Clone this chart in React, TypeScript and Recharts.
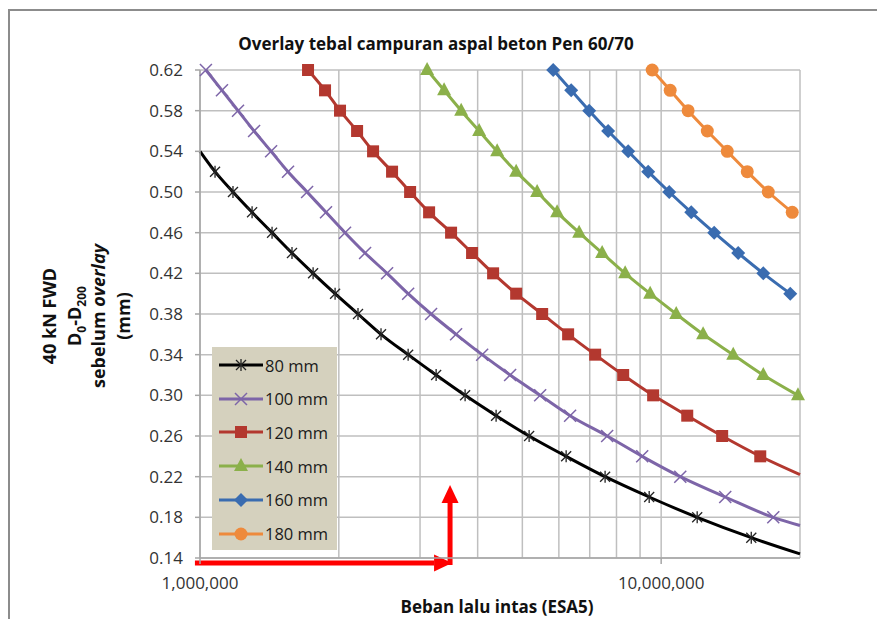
import React from "react";
import { LineChart, Line, XAxis, YAxis, CartesianGrid, ReferenceLine } from "recharts";

const FONT = "'Open Sans', 'Liberation Sans', sans-serif";

// marker positions: load (ESA5) and deflection D0-D200 (mm)
const LOAD_80 = [1078000, 1179000, 1297000, 1433000, 1583000, 1759000, 1963000, 2201000, 2469000, 2827000, 3251000, 3757000, 4386000, 5172000, 6222000, 7558000, 9419000, 11970000, 15680000];
const DEFL_80 = [0.52, 0.5, 0.48, 0.46, 0.44, 0.42, 0.4, 0.38, 0.36, 0.34, 0.32, 0.3, 0.28, 0.26, 0.24, 0.22, 0.2, 0.18, 0.16];

const LOAD_100 = [1030000, 1116000, 1209000, 1310000, 1426000, 1552000, 1707000, 1876000, 2063000, 2280000, 2545000, 2827000, 3170000, 3592000, 4091000, 4704000, 5465000, 6347000, 7636000, 9096000, 11000000, 13770000, 17500000];
const DEFL_100 = [0.62, 0.6, 0.58, 0.56, 0.54, 0.52, 0.5, 0.48, 0.46, 0.44, 0.42, 0.4, 0.38, 0.36, 0.34, 0.32, 0.3, 0.28, 0.26, 0.24, 0.22, 0.2, 0.18];

const LOAD_120 = [1715000, 1867000, 2012000, 2191000, 2373000, 2609000, 2855000, 3139000, 3503000, 3890000, 4321000, 4848000, 5520000, 6284000, 7192000, 8272000, 9607000, 11390000, 13560000, 16400000];
const DEFL_120 = [0.62, 0.6, 0.58, 0.56, 0.54, 0.52, 0.5, 0.48, 0.46, 0.44, 0.42, 0.4, 0.38, 0.36, 0.34, 0.32, 0.3, 0.28, 0.26, 0.24];

const LOAD_140 = [3108000, 3383000, 3684000, 4030000, 4409000, 4848000, 5383000, 5948000, 6639000, 7447000, 8354000, 9465000, 10780000, 12330000, 14330000, 16650000, 19800000];
const DEFL_140 = [0.62, 0.6, 0.58, 0.56, 0.54, 0.52, 0.5, 0.48, 0.46, 0.44, 0.42, 0.4, 0.38, 0.36, 0.34, 0.32, 0.3];

const LOAD_160 = [5832000, 6380000, 6981000, 7674000, 8481000, 9372000, 10410000, 11620000, 13030000, 14690000, 16650000, 19050000];
const DEFL_160 = [0.62, 0.6, 0.58, 0.56, 0.54, 0.52, 0.5, 0.48, 0.46, 0.44, 0.42, 0.4];

const LOAD_180 = [9561000, 10460000, 11440000, 12590000, 13910000, 15370000, 17070000, 19240000];
const DEFL_180 = [0.62, 0.6, 0.58, 0.56, 0.54, 0.52, 0.5, 0.48];

// curve ends drawn without a marker: [load, deflection]
const HEAD_80 = [1000000, 0.54];
const TAIL_80 = [20000000, 0.144];
const TAIL_100 = [20000000, 0.172];
const TAIL_120 = [20000000, 0.222];

const X_TICKS = [1000000, 2000000, 3000000, 4000000, 5000000, 6000000, 7000000, 8000000, 9000000, 10000000, 20000000];
const X_TICK_LABELS = ["1,000,000", "", "", "", "", "", "", "", "", "10,000,000", ""];
const Y_TICKS = [0.14, 0.18, 0.22, 0.26, 0.3, 0.34, 0.38, 0.42, 0.46, 0.5, 0.54, 0.58, 0.62];

// red annotation arrows
const ARROW_RIGHT = [{ x: 975000, y: 0.1351 }, { x: 3520000, y: 0.1351 }];
const ARROW_UP = [{ x: 3485000, y: 0.1331 }, { x: 3485000, y: 0.2118 }];

const build = (loads: number[], defl: number[], head?: number[], tail?: number[]) => [
  ...(head ? [{ x: head[0], y: head[1], bare: true }] : []),
  ...loads.map((x, i) => ({ x, y: defl[i] })),
  ...(tail ? [{ x: tail[0], y: tail[1], bare: true }] : []),
];

const SERIES = [
  { name: "80 mm", color: "#000000", marker: "star", data: build(LOAD_80, DEFL_80, HEAD_80, TAIL_80) },
  { name: "100 mm", color: "#7D65A8", marker: "x", data: build(LOAD_100, DEFL_100, undefined, TAIL_100) },
  { name: "120 mm", color: "#B3382F", marker: "square", data: build(LOAD_120, DEFL_120, undefined, TAIL_120) },
  { name: "140 mm", color: "#8BB04A", marker: "triangle", data: build(LOAD_140, DEFL_140) },
  { name: "160 mm", color: "#3A6CB0", marker: "diamond", data: build(LOAD_160, DEFL_160) },
  { name: "180 mm", color: "#EE8A3C", marker: "circle", data: build(LOAD_180, DEFL_180) },
];

function Marker({ shape, cx, cy, color }: { shape: string; cx: number; cy: number; color: string }) {
  switch (shape) {
    case "star":
      return (
        <g stroke="#222" strokeWidth={1.3}>
          <line x1={cx - 5} y1={cy - 5} x2={cx + 5} y2={cy + 5} />
          <line x1={cx - 5} y1={cy + 5} x2={cx + 5} y2={cy - 5} />
          <line x1={cx} y1={cy - 6} x2={cx} y2={cy + 6} />
        </g>
      );
    case "x":
      return (
        <g stroke={color} strokeWidth={1.5}>
          <line x1={cx - 6} y1={cy - 6} x2={cx + 6} y2={cy + 6} />
          <line x1={cx - 6} y1={cy + 6} x2={cx + 6} y2={cy - 6} />
        </g>
      );
    case "square":
      return <rect x={cx - 6} y={cy - 6} width={12} height={12} fill={color} />;
    case "triangle":
      return <polygon points={`${cx},${cy - 8} ${cx + 7},${cy + 5} ${cx - 7},${cy + 5}`} fill={color} />;
    case "diamond":
      return <polygon points={`${cx},${cy - 7} ${cx + 7},${cy} ${cx},${cy + 7} ${cx - 7},${cy}`} fill={color} />;
    default:
      return <circle cx={cx} cy={cy} r={6.5} fill={color} />;
  }
}

const dotFor = (shape: string, color: string) => (p: any) => {
  if (p.payload?.bare || p.cx == null) return <g key={p.index} />;
  return <Marker key={p.index} shape={shape} cx={p.cx} cy={p.cy} color={color} />;
};

const XTick = ({ x, y, index }: any) => {
  const label = X_TICK_LABELS[index];
  if (!label) return <g />;
  return (
    <g>
      <line x1={x} x2={x} y1={y} y2={y + 6} stroke="#A6A6A6" strokeWidth={1.5} />
      <text x={x} y={y + 31} textAnchor="middle" fill="#333" fontSize={17} fontFamily={FONT}>
        {label}
      </text>
    </g>
  );
};

const arrow = (p: any) => {
  const { x1, y1, x2, y2 } = p;
  const len = Math.hypot(x2 - x1, y2 - y1);
  const ux = (x2 - x1) / len;
  const uy = (y2 - y1) / len;
  const hx = x2 - ux * 18;
  const hy = y2 - uy * 18;
  const nx = -uy * 8.5;
  const ny = ux * 8.5;
  return (
    <g>
      <line x1={x1} y1={y1} x2={hx} y2={hy} stroke="#FF0000" strokeWidth={5} />
      <polygon points={`${x2},${y2} ${hx + nx},${hy + ny} ${hx - nx},${hy - ny}`} fill="#FF0000" />
    </g>
  );
};

export default function App() {
  return (
    <div style={{ position: "absolute", left: 0, top: 0, width: 877, height: 619, overflow: "hidden", background: "#fff", fontFamily: FONT }}>
      <div style={{ position: "absolute", left: 8, top: 9, width: 960, height: 700, border: "2px solid #8C8C8C" }} />

      <div style={{ position: "absolute", left: 0, top: 32, width: 872, textAlign: "center", fontSize: 17, fontWeight: 700, color: "#111" }}>
        Overlay tebal campuran aspal beton Pen 60/70
      </div>

      <div style={{ position: "absolute", left: 0, top: 0 }}>
        <LineChart width={877} height={619} margin={{ top: 70, right: 77, left: 0, bottom: 0 }}>
          <CartesianGrid stroke="#BFBFBF" strokeWidth={1.5} />
          <XAxis
            dataKey="x"
            type="number"
            scale="log"
            domain={[1000000, 20000000]}
            ticks={X_TICKS}
            interval={0}
            height={61}
            tickLine={false}
            tickSize={0}
            tickMargin={0}
            axisLine={{ stroke: "#A6A6A6", strokeWidth: 1.5 }}
            tick={<XTick />}
          />
          <YAxis
            type="number"
            domain={[0.14, 0.62]}
            ticks={Y_TICKS}
            interval={0}
            width={200}
            tickSize={5}
            tickMargin={12}
            tickLine={{ stroke: "#A6A6A6", strokeWidth: 1.5 }}
            axisLine={{ stroke: "#A6A6A6", strokeWidth: 1.5 }}
            tickFormatter={(v: number) => v.toFixed(2)}
            tick={{ fill: "#333", fontSize: 17, fontFamily: FONT }}
          />
          {SERIES.map((s) => (
            <Line
              key={s.name}
              data={s.data}
              dataKey="y"
              name={s.name}
              type="monotone"
              stroke={s.color}
              strokeWidth={3}
              dot={dotFor(s.marker, s.color)}
              activeDot={false}
              isAnimationActive={false}
            />
          ))}
          <ReferenceLine segment={ARROW_RIGHT} ifOverflow="visible" shape={arrow} />
          <ReferenceLine segment={ARROW_UP} ifOverflow="visible" shape={arrow} />
        </LineChart>
      </div>

      <div style={{ position: "absolute", left: 212, top: 347, width: 125, height: 203, background: "#D5D1BE" }}>
        {SERIES.map((s, i) => (
          <div key={s.name} style={{ position: "absolute", left: 7, top: 8 + i * 33.7, height: 20, display: "flex", alignItems: "center" }}>
            <svg width={44} height={20}>
              <line x1={0} y1={10} x2={44} y2={10} stroke={s.color} strokeWidth={3} />
              <Marker shape={s.marker} cx={22} cy={10} color={s.color} />
            </svg>
            <span style={{ marginLeft: 2, fontSize: 16.5, color: "#1a1a1a", whiteSpace: "nowrap" }}>{s.name}</span>
          </div>
        ))}
      </div>

      <div
        style={{
          position: "absolute",
          left: 87 - 120,
          top: 316 - 50,
          width: 240,
          height: 100,
          transform: "rotate(-90deg)",
          textAlign: "center",
          fontSize: 18,
          fontWeight: 700,
          lineHeight: "24.5px",
          color: "#111",
        }}
      >
        <div>40 kN FWD</div>
        <div>
          D<sub style={{ fontSize: 12, lineHeight: 0 }}>0</sub>-D<sub style={{ fontSize: 12, lineHeight: 0 }}>200</sub>
        </div>
        <div>
          sebelum <i>overlay</i>
        </div>
        <div>(mm)</div>
      </div>

      <div style={{ position: "absolute", left: 297, top: 595, width: 400, textAlign: "center", fontSize: 17, fontWeight: 700, color: "#111" }}>
        Beban lalu intas (ESA5)
      </div>
    </div>
  );
}
